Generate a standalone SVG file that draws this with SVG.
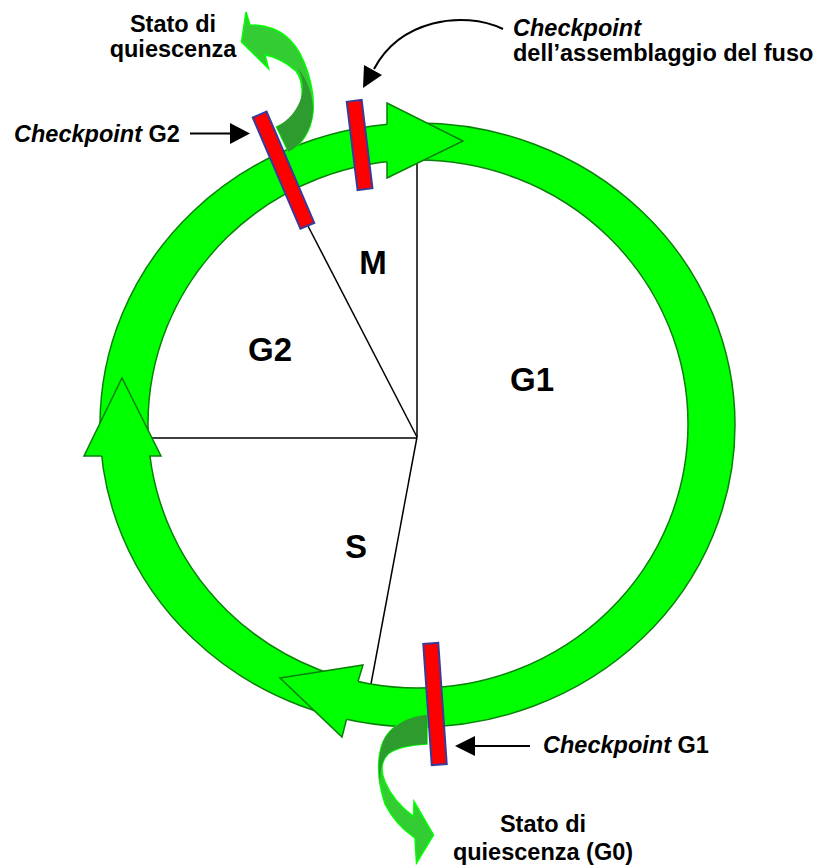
<svg xmlns="http://www.w3.org/2000/svg" width="825" height="868" viewBox="0 0 825 868">
<defs>
<style>
.ring{fill:#00FF00;stroke:#0A800A;stroke-width:1.5;fill-rule:evenodd}
.head{fill:#00FF00;stroke:none}
.headline{fill:none;stroke:#0A800A;stroke-width:1.5;stroke-linejoin:miter}
.sector{stroke:#000;stroke-width:1.5;fill:none}
.bar{fill:#FF0000;stroke:#3A3A9A;stroke-width:2}
.qlight{fill:#33CC33;stroke:#00FF00;stroke-width:1.5}
.qdark{fill:#2E9B2E;stroke:none}
.ptr{stroke:#000;stroke-width:2;fill:none}
.tip{fill:#000}
.lbl{font-family:"Liberation Sans",Arial,sans-serif;font-weight:bold;font-size:23.5px;fill:#000}
.big{font-family:"Liberation Sans",Arial,sans-serif;font-weight:bold;font-size:33px;fill:#000}
</style>
</defs>
<rect width="825" height="868" fill="#fff"/>
<g id="connectors">
<line class="sector" x1="417" y1="437" x2="417" y2="160"/>
<line class="sector" x1="417" y1="438" x2="150" y2="438"/>
<line class="sector" x1="417" y1="437" x2="308" y2="226"/>
<line class="sector" x1="417" y1="437" x2="371" y2="684"/>
</g>
<g id="cycle">
<path class="ring" d="M100,425 A317.5,302 0 1,1 735,425 A317.5,302 0 1,1 100,425 Z M148,424 A270,264 0 1,0 688,424 A270,264 0 1,0 148,424 Z"/>
<g id="arrow-top">
<polygon class="head" points="387,124 387,103 463,141 387,178 387,162"/>
<polyline class="headline" points="387,124.4 387,103 463,141 387,178 387,161.7"/>
</g>
<g id="arrow-left">
<polygon class="head" points="102,456 84,456 122,378 161,456 149,456"/>
<polyline class="headline" points="101.7,456 84,456 122,378 161,456 149,456"/>
</g>
<g id="arrow-bottom">
<polygon class="head" points="358,681.5 363,665 280,678 342,737 346.5,719.5"/>
<polyline class="headline" points="358,681.5 363,665 280,678 342,737 346.5,719.5"/>
</g>
</g>
<g id="quiescence-g2">
<path class="qlight" d="M246,12 L241.5,42 L268.5,68.5 L265,55 C272,56 285,61 296,71 C304,82 304,100 297,112 C291,120 284,124 276.5,127 L288.5,152 C300,146 311,133 313,112 C315,88 305,55 290,40 C280,30 265,25 250,25 Z"/>
<path class="qdark" d="M276.5,127 C288,121 298,110 302,95 C304,86 302,76 298,68 C306,78 312,92 313,108 C313,128 302,145 288.5,152 Z"/>
</g>
<g id="quiescence-g0">
<path class="qlight" d="M427,715 C408,716 390,726 383,742 C376,760 378,782 385,804 C392,818 403,830 415,838 L416.5,863 L433.5,835 L414,801.5 L413.5,816.5 C402,808 391,796 385,782 C380,770 382,760 388,754 C396,747 410,745 427,744 Z"/>
<path class="qdark" d="M427,715 C408,716 390,726 383,742 C378,755 378,770 380,785 C380,772 381,761 388,754 C396,747 410,745 427,744 Z"/>
</g>
<g id="checkpoint-g2"><rect class="bar" x="276" y="109.7" width="15" height="121" transform="rotate(-23.2 283.6 170.2)"/></g>
<g id="checkpoint-m"><rect class="bar" x="352.1" y="100.5" width="15" height="89" transform="rotate(-7 359.6 145)"/></g>
<g id="checkpoint-g1"><rect class="bar" x="427.5" y="643.2" width="15" height="121.5" transform="rotate(-4 435 704)"/></g>
<g id="pointers">
<line class="ptr" x1="190" y1="133.5" x2="234" y2="133.5"/>
<polygon class="tip" points="250,133.5 230,123 230,144"/>
<path class="ptr" d="M503,29 C462,10 400,20 374,69"/>
<polygon class="tip" points="363,88 364,65 382,75"/>
<line class="ptr" x1="530" y1="746" x2="472" y2="746"/>
<polygon class="tip" points="455,746 475,736 475,756"/>
</g>
<g id="labels">
<text class="lbl" x="173" y="32" text-anchor="middle">Stato di</text>
<text class="lbl" x="173" y="57" text-anchor="middle">quiescenza</text>
<text class="lbl" x="14" y="142"><tspan font-style="italic">Checkpoint</tspan> G2</text>
<text class="lbl" x="513" y="36" font-style="italic">Checkpoint</text>
<text class="lbl" x="513" y="61">dell’assemblaggio del fuso</text>
<text class="lbl" x="543" y="753"><tspan font-style="italic">Checkpoint</tspan> G1</text>
<text class="lbl" x="543" y="832" text-anchor="middle">Stato di</text>
<text class="lbl" x="543" y="860" text-anchor="middle">quiescenza (G0)</text>
<text class="big" x="373" y="274" text-anchor="middle">M</text>
<text class="big" x="270" y="361" text-anchor="middle">G2</text>
<text class="big" x="532" y="391" text-anchor="middle">G1</text>
<text class="big" x="356" y="558" text-anchor="middle">S</text>
</g>
</svg>
